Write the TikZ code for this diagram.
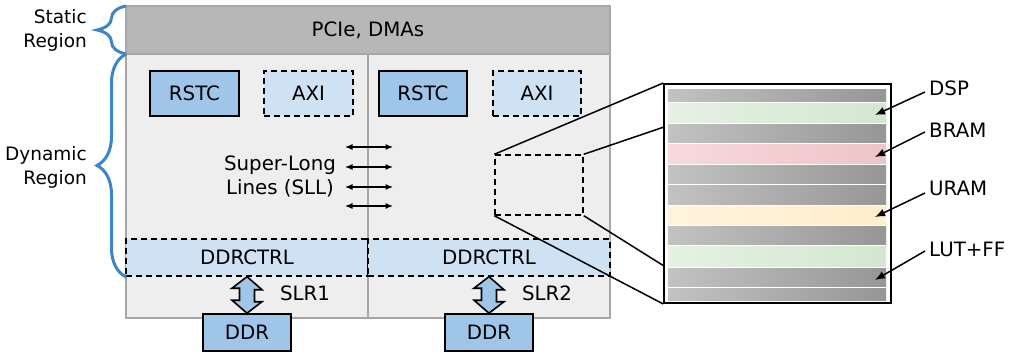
\documentclass[tikz,border=0pt]{standalone}
\usepackage{fontspec}
\setmainfont{DejaVu Sans}
\usetikzlibrary{decorations.pathreplacing,arrows.meta,calc}
\definecolor{staticgray}{HTML}{B7B7B7}
\definecolor{regiongray}{HTML}{EEEEEE}
\definecolor{bordergray}{HTML}{A6A6A6}
\definecolor{midblue}{HTML}{9FC5E8}
\definecolor{paleblue}{HTML}{CFE2F3}
\definecolor{braceblue}{HTML}{3D85C6}
\definecolor{gL}{HTML}{C2C2C2}\definecolor{gR}{HTML}{969696}
\definecolor{grL}{HTML}{E6F1E4}\definecolor{grR}{HTML}{D3E7D0}
\definecolor{rL}{HTML}{F7D9DC}\definecolor{rR}{HTML}{EEC4C8}
\definecolor{yL}{HTML}{FFF4DE}\definecolor{yR}{HTML}{FFEDCB}
\begin{document}
\begin{tikzpicture}[x=1pt,y=-1pt,font=\fontsize{19.8}{24}\selectfont,
  region/.style={draw=bordergray,fill=regiongray,line width=1.2pt,minimum width=242pt,minimum height=264pt,inner sep=0},
  solidbox/.style={draw=black,fill=midblue,line width=1.6pt,minimum height=45pt,inner sep=0},
  dashbox/.style={draw=black,fill=paleblue,line width=1.4pt,dash pattern=on 6pt off 4pt,minimum height=45pt,inner sep=0},
  ctrlbox/.style={draw=black,fill=paleblue,line width=1.4pt,dash pattern=on 6pt off 4pt,minimum width=242pt,minimum height=37pt,inner sep=0},
  ddrbox/.style={draw=black,fill=midblue,line width=1.6pt,minimum width=88pt,minimum height=37pt,inner sep=0},
  sll/.style={line width=1.2pt,{Latex[length=7.5pt,width=6pt]}-{Latex[length=7.5pt,width=6pt]}},
  zoomline/.style={line width=1.5pt},
  lead/.style={line width=1.5pt,-{Latex[length=10pt,width=8pt]}},
  brc/.style={draw=braceblue,line width=3pt,decorate,decoration={brace,amplitude=29pt}},
  dbl/.style={draw=black,fill=midblue,line width=1.6pt,line join=miter},
  lbl/.style={inner sep=0,align=right,font=\fontsize{18.5}{24}\selectfont}]
\useasboundingbox (0,0) rectangle (1011,355);

% regions
\node[draw=bordergray,fill=staticgray,line width=1.2pt,minimum width=484pt,minimum height=48pt,inner sep=0] (static) at (368,30) {PCIe, DMAs};
\node[region] (dyn1) at (247,186) {};
\node[region] (dyn2) at (489,186) {};

% blocks
\node[solidbox,minimum width=89pt] (rstc1) at (194.5,93.5) {RSTC};
\node[dashbox,minimum width=89pt] (axi1) at (308.5,93.5) {AXI};
\node[solidbox,minimum width=88pt] (rstc2) at (423,93.5) {RSTC};
\node[dashbox,minimum width=88pt] (axi2) at (537,93.5) {AXI};

\node[ctrlbox] (ctrl1) at (247,257.5) {DDRCTRL};
\node[ctrlbox] (ctrl2) at (489,257.5) {DDRCTRL};

\node[ddrbox] (ddr1) at (247,332.5) {DDR};
\node[ddrbox] (ddr2) at (489,332.5) {DDR};

% double arrows between DDRCTRL and DDR
\foreach \c/\d in {ctrl1/ddr1,ctrl2/ddr2}{
  \draw[dbl] let \p1=(\d.north), \p2=(\c.south) in (\x1,\y2) -- ++(15,13) -- ++(-7.5,0) -- ++(0,12) -- ++(7.5,0)
     -- (\d.north) -- ++(-15,-13) -- ++(7.5,0) -- ++(0,-12) -- ++(-7.5,0) -- cycle;
}
\node (slr1) at (305,293) {SLR1};
\node (slr2) at (547,293) {SLR2};

% SLL
\node[align=center,inner sep=0] (slltext) at (280,176) {Super-Long\\Lines (SLL)};
\foreach \y [count=\i] in {147,167,187,206}{
  \coordinate (sllL\i) at (345,\y);
  \coordinate (sllR\i) at (393,\y);
  \draw[sll] (sllL\i) -- (sllR\i);
}

% zoom box and inset
\node[draw=black,line width=1.4pt,dash pattern=on 6pt off 4pt,minimum width=88pt,minimum height=60pt,inner sep=0] (zbox) at (539,185) {};
\node[draw=black,fill=white,line width=1.8pt,minimum width=227pt,minimum height=219pt,inner sep=0] (inset) at (777.5,193.5) {};
\coordinate (inA) at (664,127);
\coordinate (inB) at (664,266);
\draw[zoomline] (zbox.north west) -- (inset.north west);
\draw[zoomline] (zbox.north east) -- (inA);
\draw[zoomline] (zbox.south west) -- (inset.south west);
\draw[zoomline] (zbox.south east) -- (inB);

\foreach \a/\b/\l/\r in {89/103/gL/gR,103/124/grL/grR,124/144/gL/gR,144/165/rL/rR,165/185/gL/gR,185/206/gL/gR,206/226/yL/yR,226/246/gL/gR,246/267/grL/grR,267/287/gL/gR,287/301/gL/gR}{
  \pgfmathsetmacro{\ta}{\a+1}
  \pgfmathsetmacro{\tb}{\b-1}
  \shade[left color=\l,right color=\r] (668,\ta) rectangle (886,\tb);
}

% labels on right
\node[anchor=west,inner sep=0] (dsp) at (929,88) {DSP};
\node[anchor=west,inner sep=0] (bram) at (929,130) {BRAM};
\node[anchor=west,inner sep=0] (uram) at (929,188) {URAM};
\node[anchor=west,inner sep=0] (lut) at (929,249) {LUT+FF};
\coordinate (t1) at (875,115);
\coordinate (t2) at (875,157);
\coordinate (t3) at (875,217);
\coordinate (t4) at (875,280);
\draw[lead] (925,92) -- (t1);
\draw[lead] (925,132) -- (t2);
\draw[lead] (925,193) -- (t3);
\draw[lead] (925,251) -- (t4);

% braces
\draw[brc] (126,54) -- (126,6);
\draw[brc] (126,277) -- (126,54);
\node[lbl,anchor=east] (stl) at (87,30) {Static\\Region};
\node[lbl,anchor=east] (dyl) at (87,167) {Dynamic\\Region};
\end{tikzpicture}
\end{document}
